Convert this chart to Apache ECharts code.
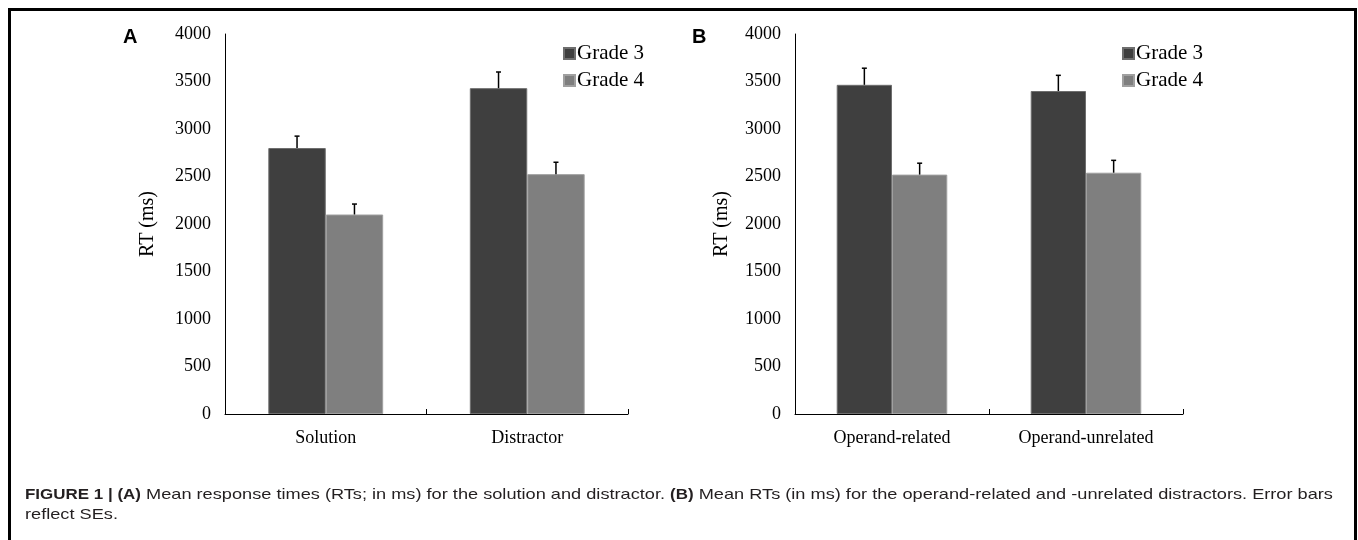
<!DOCTYPE html>
<html>
<head>
<meta charset="utf-8">
<script src="https://cdn.jsdelivr.net/npm/echarts@6/dist/echarts.min.js"></script>
<style>
    html, body { margin: 0; padding: 0; background: #fff; }
    #chart { width: 1358px; height: 540px; }
</style>
</head>
<body>
<div id="chart"></div>
<script>
    // data
    var catsA = ['Solution', 'Distractor'];
    var catsB = ['Operand-related', 'Operand-unrelated'];
    var grade3A = [2800, 3430];
    var grade4A = [2100, 2525];
    var grade3ASE = [125, 170];
    var grade4ASE = [110, 125];
    var grade3B = [3465, 3400];
    var grade4B = [2520, 2540];
    var grade3BSE = [175, 165];
    var grade4BSE = [120, 130];
    var yTicks = [0, 500, 1000, 1500, 2000, 2500, 3000, 3500, 4000];

    var serif = '"Liberation Serif", "Times New Roman", serif';
    var sans = '"Liberation Sans", Arial, sans-serif';
    var barPct = 0.285;

    var myChart = echarts.init(document.getElementById('chart'));

    function xAxisOf(idx, cats) {
        return {
            type: 'category', gridIndex: idx, data: cats,
            axisLine: { lineStyle: { color: '#000', width: 1 } },
            axisTick: { show: true, inside: true, length: 5, lineStyle: { color: '#000' } },
            axisLabel: { color: '#000', fontFamily: serif, fontSize: 18, margin: 15 }
        };
    }
    function yAxisOf(idx, gap) {
        return {
            type: 'value', gridIndex: idx,
            min: yTicks[0], max: yTicks[yTicks.length - 1], interval: yTicks[1] - yTicks[0],
            name: 'RT (ms)', nameLocation: 'middle', nameRotate: 90, nameGap: gap,
            nameTextStyle: { color: '#000', fontFamily: serif, fontSize: 20 },
            axisLine: { show: true, lineStyle: { color: '#000', width: 1 } },
            axisTick: { show: false },
            splitLine: { show: false },
            axisLabel: {
                color: '#000', fontFamily: serif, fontSize: 18, margin: 14,
                formatter: function (v) { return String(v); }
            }
        };
    }
    function bars(name, idx, data, color, border) {
        return {
            name: name, type: 'bar', xAxisIndex: idx, yAxisIndex: idx,
            data: data, barWidth: (barPct * 100) + '%', barGap: '0%',
            itemStyle: { color: color, borderColor: border, borderWidth: 1 },
            emphasis: { disabled: true }
        };
    }
    // error bars drawn on top of each bar
    function errBars(idx, vals, ses, side) {
        var d = vals.map(function (v, i) { return [i, v, ses[i]]; });
        return {
            type: 'custom', xAxisIndex: idx, yAxisIndex: idx, z: 5,
            silent: true, data: d,
            renderItem: function (params, api) {
                var band = api.size([1, 0])[0];
                var off = side * band * barPct / 2;
                var p0 = api.coord([api.value(0), api.value(1)]);
                var p1 = api.coord([api.value(0), api.value(1) + api.value(2)]);
                var x = p0[0] + off;
                var st = { stroke: '#000', lineWidth: 1.5 };
                return {
                    type: 'group',
                    children: [
                        { type: 'line', shape: { x1: x, y1: p0[1], x2: x, y2: p1[1] }, style: st },
                        { type: 'line', shape: { x1: x - 2.5, y1: p1[1], x2: x + 2.5, y2: p1[1] }, style: st }
                    ]
                };
            }
        };
    }
    function legendAt(left, top) {
        return {
            left: left, top: top, orient: 'vertical',
            data: ['Grade 3', 'Grade 4'],
            icon: 'rect', itemWidth: 11, itemHeight: 11, itemGap: 6,
            selectedMode: false,
            textStyle: { color: '#000', fontFamily: serif, fontSize: 21, lineHeight: 20, padding: [0, 0, 0, -3] }
        };
    }

    myChart.setOption({
        backgroundColor: '#fff',
        animation: false,
        legend: [legendAt(558, 38), legendAt(1117, 38)],
        grid: [
            { left: 225, top: 34, width: 403, height: 380 },
            { left: 795, top: 34, width: 388, height: 380 }
        ],
        xAxis: [xAxisOf(0, catsA), xAxisOf(1, catsB)],
        yAxis: [yAxisOf(0, 67), yAxisOf(1, 63)],
        series: [
            bars('Grade 3', 0, grade3A, '#3f3f3f', '#6e6e6e'),
            bars('Grade 4', 0, grade4A, '#7f7f7f', '#a0a0a0'),
            bars('Grade 3', 1, grade3B, '#3f3f3f', '#6e6e6e'),
            bars('Grade 4', 1, grade4B, '#7f7f7f', '#a0a0a0'),
            errBars(0, grade3A, grade3ASE, -1),
            errBars(0, grade4A, grade4ASE, 1),
            errBars(1, grade3B, grade3BSE, -1),
            errBars(1, grade4B, grade4BSE, 1)
        ],
        graphic: [
            {
                type: 'rect', silent: true,
                shape: { x: 9.5, y: 9.5, width: 1346, height: 600 },
                style: { fill: 'none', stroke: '#000', lineWidth: 3 }
            },
            {
                type: 'text', left: 123, top: 27,
                style: { text: 'A', font: 'bold 20px ' + sans, fill: '#000' }
            },
            {
                type: 'text', left: 692, top: 27,
                style: { text: 'B', font: 'bold 20px ' + sans, fill: '#000' }
            },
            {
                // caption, stretched a little wider like the source figure
                type: 'text', x: 25, y: 485, scaleX: 1.212, originX: 0, originY: 0,
                style: {
                    text: '{b|FIGURE 1 | (A)} Mean response times (RTs; in ms) for the solution and distractor. {b|(B)} Mean RTs (in ms) for the operand-related and -unrelated distractors. Error bars\nreflect SEs.',
                    fontFamily: sans, fontSize: 15, lineHeight: 20, fill: '#231f20',
                    rich: { b: { fontFamily: sans, fontSize: 14, fontWeight: 'bold', lineHeight: 20, fill: '#231f20' } }
                }
            }
        ]
    });
</script>
</body>
</html>
